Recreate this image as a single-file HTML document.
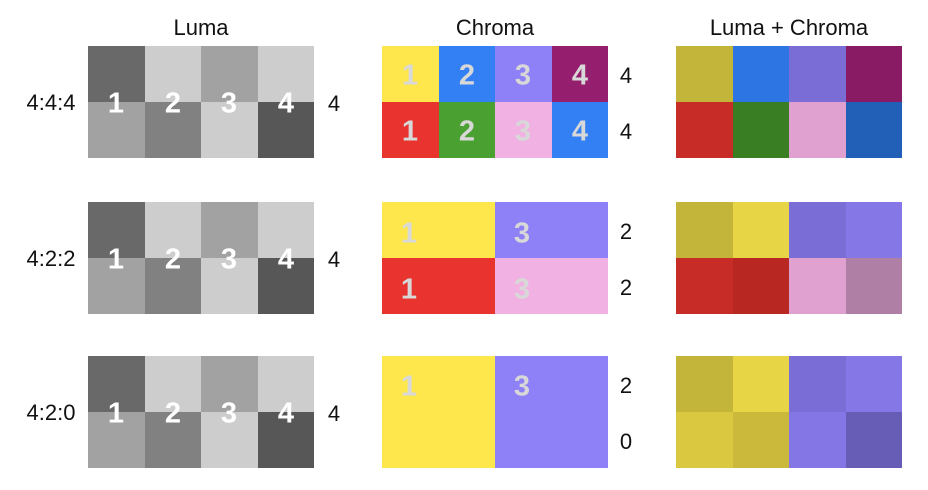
<!DOCTYPE html>
<html><head><meta charset="utf-8"><style>
body{margin:0;width:928px;height:490px;background:#fff;position:relative;overflow:hidden;font-family:"Liberation Sans",sans-serif;}
.g{position:absolute;width:226px;height:112px;display:grid;grid-template-columns:repeat(4,1fr);grid-template-rows:1fr 1fr;}
.g2{grid-template-columns:1fr 1fr;}
.t{position:absolute;font-size:22px;color:#111;transform:translate(-50%,-50%);white-space:nowrap;}
.n{position:absolute;font-size:29px;font-weight:bold;transform:translate(-50%,-50%);}
.w{color:#fff}.c{color:#d8d8d8}
</style></head><body>
<div class="t" style="left:201px;top:28px">Luma</div>
<div class="t" style="left:495px;top:28px">Chroma</div>
<div class="t" style="left:789px;top:28px">Luma + Chroma</div>

<div class="t" style="left:51px;top:103px">4:4:4</div>
<div class="t" style="left:51px;top:259px">4:2:2</div>
<div class="t" style="left:51px;top:413px">4:2:0</div>
<div class="t" style="left:334px;top:104px">4</div>
<div class="t" style="left:334px;top:260px">4</div>
<div class="t" style="left:334px;top:414px">4</div>
<div class="t" style="left:626px;top:76px">4</div>
<div class="t" style="left:626px;top:132px">4</div>
<div class="t" style="left:626px;top:232px">2</div>
<div class="t" style="left:626px;top:288px">2</div>
<div class="t" style="left:626px;top:386px">2</div>
<div class="t" style="left:626px;top:442px">0</div>

<!-- Luma grids -->
<div class="g" style="left:88px;top:46px"><div style="background:#696969"></div><div style="background:#cdcdcd"></div><div style="background:#a2a2a2"></div><div style="background:#cdcdcd"></div><div style="background:#a2a2a2"></div><div style="background:#818181"></div><div style="background:#cdcdcd"></div><div style="background:#575757"></div></div>
<div class="g" style="left:88px;top:202px"><div style="background:#696969"></div><div style="background:#cdcdcd"></div><div style="background:#a2a2a2"></div><div style="background:#cdcdcd"></div><div style="background:#a2a2a2"></div><div style="background:#818181"></div><div style="background:#cdcdcd"></div><div style="background:#575757"></div></div>
<div class="g" style="left:88px;top:356px"><div style="background:#696969"></div><div style="background:#cdcdcd"></div><div style="background:#a2a2a2"></div><div style="background:#cdcdcd"></div><div style="background:#a2a2a2"></div><div style="background:#818181"></div><div style="background:#cdcdcd"></div><div style="background:#575757"></div></div>
<div class="n w" style="left:116px;top:104px">1</div><div class="n w" style="left:173px;top:104px">2</div><div class="n w" style="left:229px;top:104px">3</div><div class="n w" style="left:286px;top:104px">4</div>
<div class="n w" style="left:116px;top:260px">1</div><div class="n w" style="left:173px;top:260px">2</div><div class="n w" style="left:229px;top:260px">3</div><div class="n w" style="left:286px;top:260px">4</div>
<div class="n w" style="left:116px;top:414px">1</div><div class="n w" style="left:173px;top:414px">2</div><div class="n w" style="left:229px;top:414px">3</div><div class="n w" style="left:286px;top:414px">4</div>

<!-- Chroma -->
<div class="g" style="left:382px;top:46px"><div style="background:#fde74c"></div><div style="background:#3280f4"></div><div style="background:#8e80f6"></div><div style="background:#951f6e"></div><div style="background:#e9332e"></div><div style="background:#4aa030"></div><div style="background:#f2b1e3"></div><div style="background:#3280f4"></div></div>
<div class="n c" style="left:410px;top:76px">1</div><div class="n c" style="left:467px;top:76px">2</div><div class="n c" style="left:523px;top:76px">3</div><div class="n c" style="left:580px;top:76px">4</div>
<div class="n c" style="left:410px;top:132px">1</div><div class="n c" style="left:467px;top:132px">2</div><div class="n c" style="left:523px;top:132px">3</div><div class="n c" style="left:580px;top:132px">4</div>
<div class="g g2" style="left:382px;top:202px"><div style="background:#fde74c"></div><div style="background:#8e80f6"></div><div style="background:#e9332e"></div><div style="background:#f2b1e3"></div></div>
<div class="n c" style="left:409px;top:234px">1</div><div class="n c" style="left:522px;top:234px">3</div>
<div class="n c" style="left:409px;top:290px">1</div><div class="n c" style="left:522px;top:290px">3</div>
<div class="g" style="left:382px;top:356px;grid-template-columns:1fr 1fr;grid-template-rows:1fr"><div style="background:#fde74c"></div><div style="background:#8e80f6"></div></div>
<div class="n c" style="left:409px;top:387px">1</div><div class="n c" style="left:522px;top:387px">3</div>

<!-- Combined -->
<div class="g" style="left:676px;top:46px"><div style="background:#c3b43a"></div><div style="background:#2d75e2"></div><div style="background:#7a6dd6"></div><div style="background:#891b65"></div><div style="background:#c82c27"></div><div style="background:#3a7e23"></div><div style="background:#e0a1d0"></div><div style="background:#225fb6"></div></div>
<div class="g" style="left:676px;top:202px"><div style="background:#c3b43a"></div><div style="background:#e8d545"></div><div style="background:#7a6dd6"></div><div style="background:#8677e6"></div><div style="background:#c82c27"></div><div style="background:#b92722"></div><div style="background:#e0a1d0"></div><div style="background:#af7fa5"></div></div>
<div class="g" style="left:676px;top:356px"><div style="background:#c3b43a"></div><div style="background:#e8d545"></div><div style="background:#7a6dd6"></div><div style="background:#8677e6"></div><div style="background:#d9c840"></div><div style="background:#cab93a"></div><div style="background:#8476e4"></div><div style="background:#675cb6"></div></div>
</body></html>
